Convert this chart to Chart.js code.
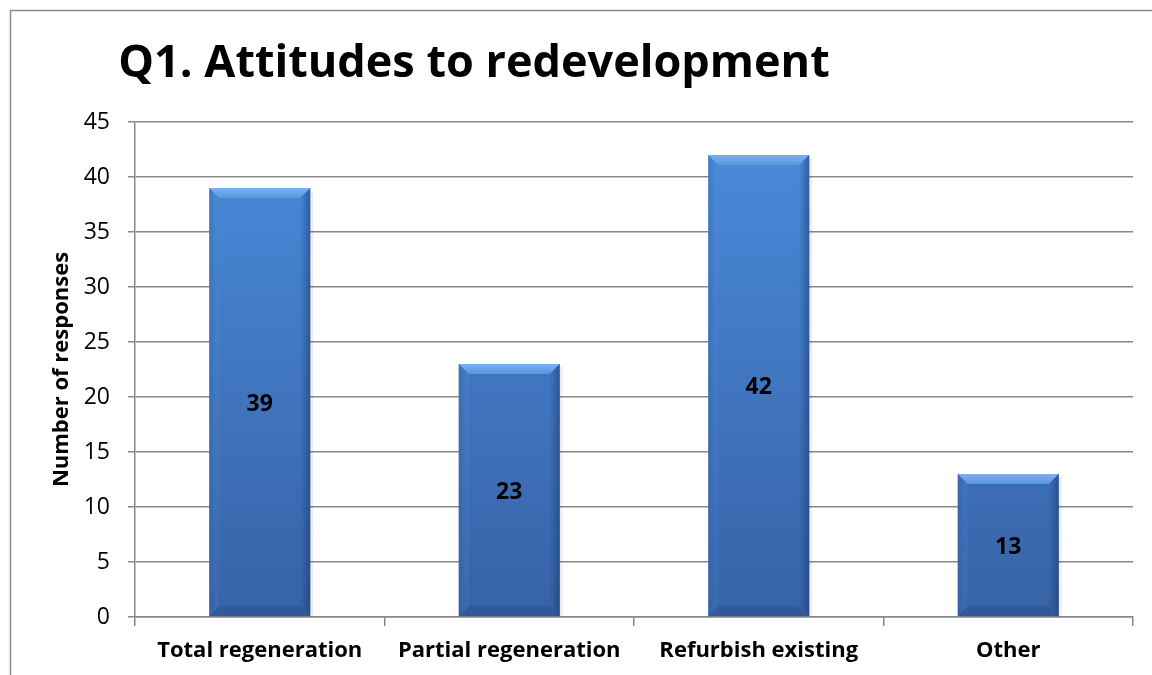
<!DOCTYPE html>
<html>
<head>
<meta charset="utf-8">
<script src="https://cdn.jsdelivr.net/npm/chart.js@4/dist/chart.umd.min.js"></script>
<style>
  html, body { margin: 0; padding: 0; background: #fff; }
  #wrap { position: relative; width: 1152px; height: 675px; }
</style>
</head>
<body>
<div id="wrap"><canvas id="chart" width="1152" height="675"></canvas></div>
<script>
const categories = ['Total regeneration', 'Partial regeneration', 'Refurbish existing', 'Other'];
const responses = [39, 23, 42, 13];
const yTicks = [0, 5, 10, 15, 20, 25, 30, 35, 40, 45];
const chartTitle = 'Q1. Attitudes to redevelopment';
const yTitle = 'Number of responses';

const FONT = '"Open Sans", Lato, sans-serif';

// outer frame + title
const framePlugin = {
  id: 'frame',
  beforeDraw(chart) {
    const ctx = chart.ctx;
    ctx.save();
    ctx.strokeStyle = '#8c8c8c';
    ctx.lineWidth = 1.5;
    ctx.beginPath();
    ctx.moveTo(10.5, 675);
    ctx.lineTo(10.5, 10.5);
    ctx.lineTo(1152, 10.5);
    ctx.stroke();
    ctx.fillStyle = '#000';
    ctx.font = 'bold 45px ' + FONT;
    ctx.textAlign = 'center';
    ctx.textBaseline = 'alphabetic';
    ctx.fillText(chartTitle, 474, 77);
    ctx.restore();
  }
};

// bevel look + value labels
const barPlugin = {
  id: 'bars',
  afterDatasetsDraw(chart) {
    const ctx = chart.ctx;
    const meta = chart.getDatasetMeta(0);
    meta.data.forEach((bar, i) => {
      const l = bar.x - bar.width / 2, r = bar.x + bar.width / 2;
      const t = bar.y, b = bar.base;
      const bv = 10;
      ctx.save();
      // top bevel
      let g = ctx.createLinearGradient(0, t, 0, t + bv);
      g.addColorStop(0, '#78b2f0');
      g.addColorStop(1, '#5896e0');
      ctx.fillStyle = g;
      ctx.beginPath();
      ctx.moveTo(l, t); ctx.lineTo(r, t); ctx.lineTo(r - bv, t + bv); ctx.lineTo(l + bv, t + bv); ctx.closePath();
      ctx.fill();
      // left bevel
      g = ctx.createLinearGradient(l, 0, l + bv, 0);
      g.addColorStop(0, 'rgba(40,90,160,0.35)');
      g.addColorStop(1, 'rgba(90,150,225,0.15)');
      ctx.fillStyle = g;
      ctx.beginPath();
      ctx.moveTo(l, t); ctx.lineTo(l + bv, t + bv); ctx.lineTo(l + bv, b - bv); ctx.lineTo(l, b); ctx.closePath();
      ctx.fill();
      // right bevel
      g = ctx.createLinearGradient(r - bv, 0, r, 0);
      g.addColorStop(0, 'rgba(30,70,130,0.05)');
      g.addColorStop(1, 'rgba(20,50,100,0.5)');
      ctx.fillStyle = g;
      ctx.beginPath();
      ctx.moveTo(r, t); ctx.lineTo(r - bv, t + bv); ctx.lineTo(r - bv, b - bv); ctx.lineTo(r, b); ctx.closePath();
      ctx.fill();
      // bottom bevel
      ctx.fillStyle = 'rgba(20,50,100,0.18)';
      ctx.beginPath();
      ctx.moveTo(l, b); ctx.lineTo(l + bv, b - bv); ctx.lineTo(r - bv, b - bv); ctx.lineTo(r, b); ctx.closePath();
      ctx.fill();
      // soft shadow on the right
      ctx.fillStyle = 'rgba(0,0,0,0.07)';
      ctx.fillRect(r, t + 3, 3, b - t - 3);
      // label
      ctx.fillStyle = '#000';
      ctx.font = 'bold 23px ' + FONT;
      ctx.textAlign = 'center';
      ctx.textBaseline = 'middle';
      ctx.fillText(String(responses[i]), bar.x, (t + b) / 2 + 2);
      ctx.restore();
    });
  }
};

new Chart(document.getElementById('chart'), {
  type: 'bar',
  data: {
    labels: categories,
    datasets: [{
      data: responses,
      backgroundColor(c) {
        const area = c.chart.chartArea;
        if (!area) return '#4080cc';
        const g = c.chart.ctx.createLinearGradient(0, area.top, 0, area.bottom);
        g.addColorStop(0, '#4a8cdc');
        g.addColorStop(1, '#3762a6');
        return g;
      },
      borderWidth: 0,
      categoryPercentage: 1,
      barPercentage: 0.405
    }]
  },
  options: {
    responsive: false,
    animation: false,
    events: [],
    layout: { padding: { top: 122, right: 19, bottom: 0, left: 0 } },
    plugins: { legend: { display: false }, tooltip: { enabled: false }, title: { display: false } },
    scales: {
      x: {
        afterFit(s) { s.height = 58; },
        grid: { offset: true, drawOnChartArea: false, color: '#888', lineWidth: 1.5, tickLength: 9 },
        border: { color: '#888', width: 1.5 },
        ticks: { color: '#000', padding: 12, font: { family: FONT, size: 22, weight: 'bold' } }
      },
      y: {
        min: 0, max: 45,
        afterFit(s) { s.width = 135; },
        afterBuildTicks(s) { s.ticks = yTicks.map(v => ({ value: v })); },
        grid: { color: '#888', lineWidth: 1.5, tickLength: 7 },
        border: { color: '#888', width: 1.5 },
        ticks: { color: '#000', padding: 18, font: { family: FONT, size: 23 } },
        title: { display: true, text: yTitle, color: '#000', padding: { top: 49, bottom: 0 }, font: { family: FONT, size: 22, weight: 'bold' } }
      }
    }
  },
  plugins: [framePlugin, barPlugin]
});
</script>
</body>
</html>
